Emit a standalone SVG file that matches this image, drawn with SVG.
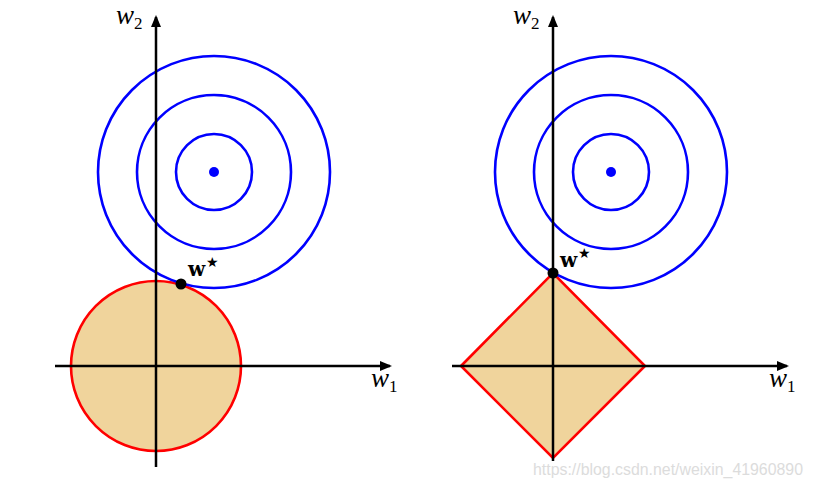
<svg xmlns="http://www.w3.org/2000/svg" width="813" height="488" viewBox="0 0 813 488">
<style>
.ax{stroke:#000;stroke-width:2.5;fill:none}
.ct{stroke:#0000ff;stroke-width:2.6;fill:none}
.reg{stroke:#ff0000;stroke-width:2.6;fill:#f0d49c}
.lbl{font-family:"Liberation Serif","DejaVu Serif",serif;font-style:italic;font-size:27px;fill:#000}
.sub{font-family:"Liberation Serif","DejaVu Serif",serif;font-style:normal;font-size:17px;fill:#000}
.ws{font-family:"DejaVu Serif","Liberation Serif",serif;font-weight:bold;font-size:20px;fill:#000}
.star{font-family:"DejaVu Sans",sans-serif;font-size:14px;fill:#000}
.wm{font-family:"Liberation Sans",Arial,sans-serif;font-size:16px;fill:#dcdcdc}
</style>
<defs>
<marker id="ah" markerWidth="12" markerHeight="10" refX="10" refY="5" orient="auto" markerUnits="userSpaceOnUse">
<path d="M0,0 L12,5 L0,10 Z" fill="#000"/>
</marker>
</defs>
<g id="left-plot">
<g id="left-region"><circle class="reg" cx="156" cy="366" r="85"/></g>
<g id="left-contours">
<circle class="ct" cx="214" cy="172" r="38"/>
<circle class="ct" cx="214" cy="172" r="77"/>
<circle class="ct" cx="214" cy="172" r="116"/>
<circle cx="214" cy="172" r="5" fill="#0000ff"/>
</g>
<g id="left-axes">
<line class="ax" x1="55" y1="366" x2="390" y2="366" marker-end="url(#ah)"/>
<line class="ax" x1="156" y1="467" x2="156" y2="17" marker-end="url(#ah)"/>
</g>
<g id="left-wstar">
<circle cx="181" cy="284" r="5.5" fill="#000"/>
<text class="ws" x="188" y="276">w</text><text class="star" x="206" y="267">★</text>
</g>
<text class="lbl" x="116" y="24">w<tspan class="sub" dy="5">2</tspan></text>
<text class="lbl" x="371" y="387">w<tspan class="sub" dy="5">1</tspan></text>
</g>
<g id="right-plot">
<g id="right-region"><polygon class="reg" points="461,366 553,273 645,366 553,458"/></g>
<g id="right-contours">
<circle class="ct" cx="611" cy="172" r="38"/>
<circle class="ct" cx="611" cy="172" r="77"/>
<circle class="ct" cx="611" cy="172" r="116"/>
<circle cx="611" cy="172" r="5" fill="#0000ff"/>
</g>
<g id="right-axes">
<line class="ax" x1="452" y1="366" x2="787" y2="366" marker-end="url(#ah)"/>
<line class="ax" x1="553" y1="461" x2="553" y2="17" marker-end="url(#ah)"/>
</g>
<g id="right-wstar">
<circle cx="553" cy="273" r="5.5" fill="#000"/>
<text class="ws" x="560" y="267">w</text><text class="star" x="578" y="258">★</text>
</g>
<text class="lbl" x="513" y="24">w<tspan class="sub" dy="5">2</tspan></text>
<text class="lbl" x="769" y="387">w<tspan class="sub" dy="5">1</tspan></text>
</g>
<text class="wm" x="533" y="475" textLength="270" lengthAdjust="spacingAndGlyphs">https://blog.csdn.net/weixin_41960890</text>
</svg>
